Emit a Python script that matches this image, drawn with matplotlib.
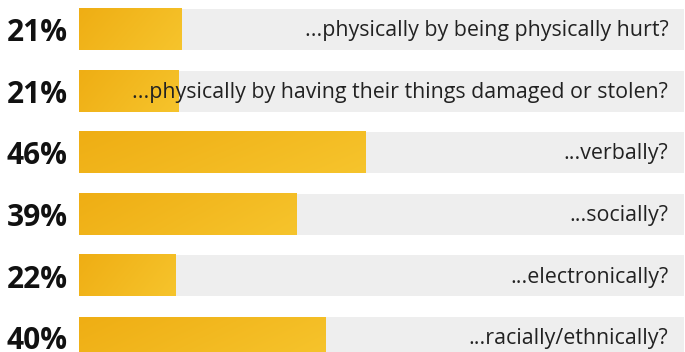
import numpy as np
import matplotlib.pyplot as plt
from matplotlib.colors import LinearSegmentedColormap

plt.rcParams['font.family'] = ['Open Sans', 'DejaVu Sans']

questions = ["...physically by being physically hurt?",
             "...physically by having their things damaged or stolen?",
             "...verbally?",
             "...socially?",
             "...electronically?",
             "...racially/ethnically?"]
pct_labels = ["21%", "21%", "46%", "39%", "22%", "40%"]
# bar lengths as drawn, in percent of the grey track
bar_len = [16.9, 16.4, 47.3, 35.9, 15.9, 40.7]

track_color = "#eeeeee"
grad = LinearSegmentedColormap.from_list("g", ["#efae14", "#f6c42c"])

fig = plt.figure(figsize=(6.85, 3.52), dpi=100)
ax = fig.add_axes([79 / 685, 0, 605 / 685, 1])
ax.set_xlim(0, 100)
ax.set_ylim(5.235, -0.479)
ax.axis('off')

h = 0.666
yy, xx = np.mgrid[0:1:20j, 0:1:60j]
field = 0.75 * xx + 0.25 * yy

for i, (q, lab, w) in enumerate(zip(questions, pct_labels, bar_len)):
    ax.barh(i, 100, height=h, color=track_color, zorder=1)
    ax.imshow(field, cmap=grad, extent=(0, w, i + h / 2, i - h / 2),
              aspect='auto', zorder=2, interpolation='bilinear')
    ax.text(97.4, i + 0.02, q, ha='right', va='center', fontsize=15.4,
            color='#222222', zorder=3)
    ax.text(-1.9, i + 0.06, lab, ha='right', va='center', fontsize=21.5,
            fontweight='bold', color='#111111', zorder=3)

ax.set_xlim(0, 100)
ax.set_ylim(5.235, -0.479)
fig.savefig("out.png", dpi=100)
